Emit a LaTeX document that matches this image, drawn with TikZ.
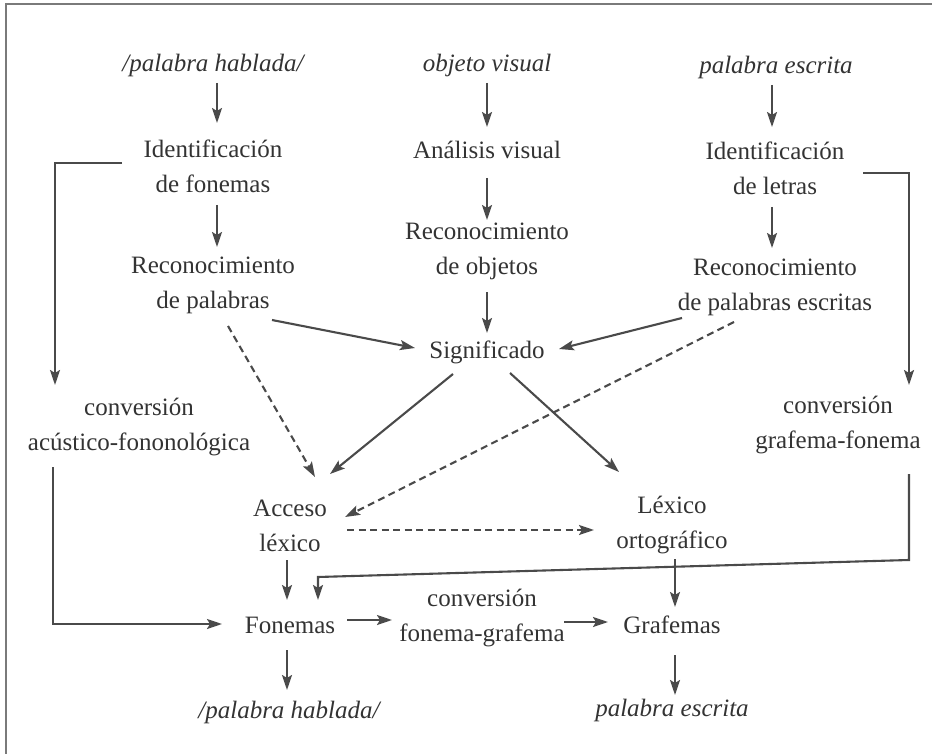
\documentclass[tikz,border=0pt]{standalone}
\usepackage{fontspec}
\setmainfont{Liberation Serif}
\usetikzlibrary{arrows.meta,calc}
\definecolor{txt}{HTML}{333333}
\definecolor{ln}{HTML}{4A4A4A}
\definecolor{frm}{HTML}{7A7A7A}
\tikzset{
  lbl/.style={font=\fontsize{25}{35}\selectfont, align=center, inner sep=0pt, outer sep=0pt, text=txt},
  ilbl/.style={lbl, font=\fontsize{25}{35}\selectfont\itshape},
  arr/.style={draw=ln, line width=2.1pt, -{Stealth[length=15pt,width=10pt,inset=3pt]}},
  darr/.style={arr, dash pattern=on 7pt off 4.5pt},
  plain/.style={draw=ln, line width=2.1pt}
}
\begin{document}
\begin{tikzpicture}[x=1pt,y=-1pt]
\useasboundingbox (0,0) rectangle (932,754);
\fill[white] (0,0) rectangle (932,754);
\draw[frm, line width=1.5pt] (6,760) -- (6,4) -- (940,4);

% top row
\node[ilbl] (ph1) at (213,65) {/palabra hablada/};
\node[ilbl] (ov)  at (487,65) {objeto visual};
\node[ilbl] (pe1) at (776,67) {palabra escrita};
% row 2
\node[lbl] (idf) at (213,166) {Identificación\\de fonemas};
\node[lbl] (av)  at (487,150) {Análisis visual};
\node[lbl] (idl) at (775,168) {Identificación\\de letras};
% row 3
\node[lbl] (rp)  at (213,285) {Reconocimiento\\de palabras};
\node[lbl] (ro)  at (487,251) {Reconocimiento\\de objetos};
\node[lbl] (rpe) at (775,287) {Reconocimiento\\de palabras escritas};
\node[lbl] (sig) at (487,352) {Significado};
% conversions
\node[lbl] (caf) at (139,427) {conversión\\acústico-fononológica};
\node[lbl] (cgf) at (838,425) {conversión\\grafema-fonema};
% lexicons
\node[lbl] (al)  at (290,526) {Acceso\\léxico};
\node[lbl] (lo)  at (672,525) {Léxico\\ortográfico};
% bottom
\node[lbl] (fon) at (290,625) {Fonemas};
\node[lbl] (cfg) at (482,618) {conversión\\fonema-grafema};
\node[lbl] (gra) at (672,625) {Grafemas};
\node[ilbl] (ph2) at (289,712) {/palabra hablada/};
\node[ilbl] (pe2) at (672,710) {palabra escrita};

% vertical arrows
\draw[arr] ($(ph1)+(4,18)$) -- ($(idf)+(4,-43)$);
\draw[arr] ($(ov)+(0,18)$) -- ($(av)+(0,-23)$);
\draw[arr] ($(pe1)+(-4,18)$) -- ($(idl)+(-3,-41)$);
\draw[arr] ($(idf)+(4,39)$) -- ($(rp)+(4,-38)$);
\draw[arr] ($(av)+(0,28)$) -- ($(ro)+(0,-31)$);
\draw[arr] ($(idl)+(-3,39)$) -- ($(rpe)+(-3,-39)$);
\draw[arr] ($(ro)+(0,41)$) -- ($(sig)+(0,-19)$);

% into Significado
\draw[arr] ($(rp)+(59,35)$) -- ($(sig)+(-72,-4)$);
\draw[arr] ($(rpe)+(-93,31)$) -- ($(sig)+(72,-3)$);

% dashed to Acceso lexico
\draw[darr] ($(rpe)+(-41,35)$) -- ($(al)+(55,-9)$);
\draw[darr] ($(rp)+(15,41)$) -- ($(al)+(25,-49)$);

% from Significado
\draw[arr] ($(sig)+(-34,22)$) -- ($(al)+(40,-52)$);
\draw[arr] ($(sig)+(23,21)$) -- ($(lo)+(-53,-53)$);

% left route
\draw[arr] ($(idf)+(-91,-3)$) -| ($(caf)+(-84,-42)$);
\draw[arr] ($(caf)+(-86,40)$) |- ($(fon)+(-68,-1)$);

% right route
\draw[arr] ($(idl)+(88,5)$) -| ($(cgf)+(71,-40)$);
\draw[arr] ($(cgf)+(71,49)$) -- ($(cgf)+(71,135)$) -- ($(fon)+(28,-48)$) -- ($(fon)+(28,-25)$);

% lexicon level
\draw[darr] ($(al)+(57,4)$) -- ($(lo)+(-78,5)$);
\draw[arr] ($(al)+(-3,34)$) -- ($(fon)+(-3,-25)$);
\draw[arr] ($(lo)+(3,34)$) -- ($(gra)+(3,-18)$);

% bottom level
\draw[arr] ($(fon)+(57,-5)$) -- ($(cfg)+(-90,2)$);
\draw[arr] ($(cfg)+(82,4)$) -- ($(gra)+(-64,-3)$);
\draw[arr] ($(fon)+(-3,25)$) -- ($(ph2)+(-2,-22)$);
\draw[arr] ($(gra)+(3,30)$) -- ($(pe2)+(3,-15)$);
\end{tikzpicture}
\end{document}
